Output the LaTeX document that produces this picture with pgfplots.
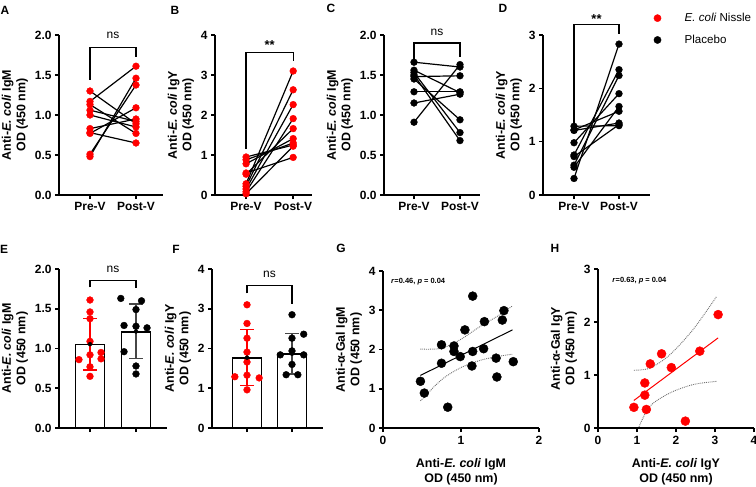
\documentclass[border=0pt]{standalone}
\usepackage{fontspec}
\setmainfont{Liberation Sans}
\usepackage{pgfplots}
\usepackage{pgfplotstable}
\pgfplotsset{compat=1.18}

\definecolor{ecn}{RGB}{255,0,0}
\definecolor{bandgray}{RGB}{110,110,110}
\definecolor{sdgray}{RGB}{70,70,70}

% paired data, pre-V / post-V
\pgfplotstableread{
pre post
1.30 0.89
1.17 1.61
1.13 0.77
1.06 0.92
1.00 0.85
0.83 0.95
0.78 0.65
0.77 1.09
0.51 1.375
0.48 1.46
}\dataA
\pgfplotstableread{
pre post
0.95 1.25
0.88 1.30
0.78 1.41
0.55 0.94
0.52 1.66
0.28 3.10
0.22 2.63
0.15 2.26
0.08 1.91
0.03 1.22
}\dataB
\pgfplotstableread{
pre post
1.66 1.60
1.56 1.28
1.53 0.78
1.50 0.68
1.45 0.94
1.29 1.29
1.48 1.49
1.15 1.26
0.91 1.63
}\dataC
\pgfplotstableread{
pre post
1.29 1.30
1.22 1.57
1.21 1.35
0.98 1.90
0.75 2.35
0.72 1.32
0.56 2.24
0.52 1.66
0.31 2.83
}\dataD
% post-V values, jittered
\pgfplotstableread{
x y
1.00 1.61
1.00 1.46
1.00 1.375
1.00 1.09
1.24 0.95
1.00 0.92
1.24 0.87
0.76 0.86
1.00 0.77
1.00 0.65
}\dotsEr
\pgfplotstableread{
x y
1.67 1.63
2.12 1.60
2.00 1.49
1.74 1.29
2.00 1.28
2.24 1.26
1.74 0.96
2.00 0.78
2.00 0.68
}\dotsEb
\pgfplotstableread{
x y
1.00 3.10
1.00 2.63
1.00 2.26
1.00 1.91
1.00 1.66
1.00 1.33
0.73 1.29
1.27 1.26
1.00 0.96
}\dotsFr
\pgfplotstableread{
x y
2.00 2.85
2.26 2.36
2.00 2.26
2.00 1.94
1.74 1.84
2.26 1.84
2.00 1.60
1.87 1.34
2.13 1.34
}\dotsFb
% correlations
\pgfplotstableread{
x y
0.48 1.19
0.53 0.89
0.83 0.53
0.75 2.12
0.75 1.65
0.91 2.09
0.91 1.95
0.99 1.82
1.05 2.50
1.15 3.36
1.15 1.95
1.14 1.58
1.29 2.02
1.30 2.71
1.45 1.78
1.46 1.30
1.53 2.75
1.55 2.99
1.67 1.69
}\dataG
\pgfplotstableread{
x y
0.92 0.39
1.20 0.85
1.20 0.62
1.24 0.35
1.34 1.21
1.63 1.40
1.88 1.14
2.24 0.13
2.61 1.45
3.08 2.14
}\dataH

\pgfplotsset{
  gp/.style={
    scale only axis, anchor=south west, clip=false,
    axis x line*=bottom, axis y line*=left,
    axis line style={line width=1.6bp},
    every tick/.style={line width=1.6bp, black},
    tick align=outside, major tick length=4bp,
    /pgf/number format/assume math mode=true,
    ticklabel style={font=\bfseries\fontsize{12}{12}\selectfont},
    label style={font=\bfseries\fontsize{12.5}{14.5}\selectfont, align=center},
  },
  prepost/.style={gp, xtick={1,2}, xticklabels={Pre-V,Post-V}},
  onedec/.style={yticklabel style={/pgf/number format/fixed,
      /pgf/number format/fixed zerofill, /pgf/number format/precision=1}},
  pair/.style={black, line width=1.2bp, quiver={u=1, v=\thisrow{post}-\thisrow{pre}}},
  dot/.style={only marks, mark=*, mark size=3.4bp, color=#1, mark options={fill=#1, draw=#1}},
  bigdot/.style={only marks, mark=*, mark size=4.5bp, color=#1, mark options={fill=#1, draw=#1}},
  bracket/.style={black, line width=1.2bp, mark=none},
  bar/.style={ybar, bar width=29bp, bar shift=0pt, fill=white, draw=black, line width=1.8bp},
  sd/.style={only marks, mark=none, error bars/.cd, y dir=both, y explicit,
    error bar style={line width=1.3bp, #1},
    error mark options={rotate=90, mark size=7bp, line width=1.3bp, #1}},
  cband/.style={densely dotted, bandgray, line width=0.9bp, smooth, mark=none},
  scat/.style={gp, xticklabel style={yshift=-1bp}, xlabel style={yshift=-7bp}},
}
\newcommand{\ns}{\fontsize{12}{12}\selectfont}
\newcommand{\stars}{\bfseries\fontsize{13}{13}\selectfont}
\newcommand{\panel}{\bfseries\fontsize{12}{12}\selectfont}

\begin{document}
\begin{tikzpicture}
\useasboundingbox (0,0) rectangle (756bp,-487bp);

% ---- A
\begin{axis}[prepost, onedec, at={(59bp,-195bp)}, width=104bp, height=160bp,
  xmin=0.326, xmax=2.587, ymin=0, ymax=2, ytick={0,0.5,...,2},
  ylabel={Anti-\textit{E. coli} IgM\\OD (450 nm)}]
\addplot[pair] table[x expr=1, y=pre] {\dataA};
\addplot[dot=ecn] table[x expr=1, y=pre] {\dataA};
\addplot[dot=ecn] table[x expr=2, y=post] {\dataA};
\addplot[bracket] coordinates {(1,1.44) (1,1.84) (2,1.84) (2,1.73)};
\node[anchor=base, font=\ns] at (axis cs:1.5,1.96) {ns};
\end{axis}

% ---- B
\begin{axis}[prepost, at={(215bp,-195bp)}, width=97bp, height=160bp,
  xmin=0.34, xmax=2.40, ymin=0, ymax=4, ytick={0,...,4},
  ylabel={Anti-\textit{E. coli} IgY\\OD (450 nm)}]
\addplot[pair] table[x expr=1, y=pre] {\dataB};
\addplot[dot=ecn] table[x expr=1, y=pre] {\dataB};
\addplot[dot=ecn] table[x expr=2, y=post] {\dataB};
\addplot[bracket] coordinates {(1,1.15) (1,3.57) (2,3.57) (2,3.34)};
\node[anchor=base, font=\stars] at (axis cs:1.5,3.63) {**};
\end{axis}

% ---- C
\begin{axis}[prepost, onedec, at={(384bp,-195bp)}, width=96bp, height=160bp,
  xmin=0.348, xmax=2.435, ymin=0, ymax=2, ytick={0,0.5,...,2},
  ylabel={Anti-\textit{E. coli} IgM\\OD (450 nm)}]
\addplot[pair] table[x expr=1, y=pre] {\dataC};
\addplot[dot=black] table[x expr=1, y=pre] {\dataC};
\addplot[dot=black] table[x expr=2, y=post] {\dataC};
\addplot[bracket] coordinates {(1,1.70) (1,1.90) (2,1.90) (2,1.73)};
\node[anchor=base, font=\ns] at (axis cs:1.5,1.99) {ns};
\end{axis}

% ---- D
\begin{axis}[prepost, at={(543bp,-195bp)}, width=107bp, height=160bp,
  xmin=0.311, xmax=2.689, ymin=0, ymax=3, ytick={0,...,3},
  ylabel={Anti-\textit{E. coli} IgY\\OD (450 nm)}]
\addplot[pair] table[x expr=1, y=pre] {\dataD};
\addplot[dot=black] table[x expr=1, y=pre] {\dataD};
\addplot[dot=black] table[x expr=2, y=post] {\dataD};
\addplot[bracket] coordinates {(1,1.34) (1,3.19) (2,3.19) (2,3.02)};
\node[anchor=base, font=\stars] at (axis cs:1.5,3.22) {**};
\end{axis}

% ---- legend
\begin{axis}[at={(543bp,-195bp)}, anchor=south west, scale only axis,
  width=107bp, height=160bp, hide axis, xmin=0, xmax=1, ymin=0, ymax=1,
  legend style={draw=none, fill=none, inner sep=0pt,
    at={(axis description cs:1.029,1.15)}, anchor=north west,
    font=\fontsize{11.6}{14}\selectfont, row sep=8bp},
  legend cell align=left,
  legend image code/.code={\path (-4bp,0) (25bp,0); \draw[#1] plot coordinates {(0bp,0bp)};}]
\addlegendimage{dot=ecn, mark size=3.6bp}
\addlegendentry{\textit{E. coli} Nissle}
\addlegendimage{dot=black, mark size=3.6bp}
\addlegendentry{Placebo}
\end{axis}

% ---- E
\begin{axis}[gp, onedec, at={(59bp,-428bp)}, width=108bp, height=159bp,
  xmin=0.326, xmax=2.674, ymin=0, ymax=2, ytick={0,0.5,...,2},
  xtick={1,2}, xticklabels={,},
  ylabel={Anti-\textit{E. coli} IgM\\OD (450 nm)}]
\addplot[bar] coordinates {(1,1.05) (2,1.21)};
\addplot[dot=ecn] table {\dotsEr};
\addplot[dot=black] table {\dotsEb};
\addplot[sd=ecn] coordinates {(1,1.055) +- (0,0.325)};
\addplot[sd=sdgray] coordinates {(2,1.215) +- (0,0.345)};
\addplot[bracket] coordinates {(1,1.77) (1,1.86) (2,1.86) (2,1.76)};
\node[anchor=base, font=\ns] at (axis cs:1.5,1.95) {ns};
\end{axis}

% ---- F
\begin{axis}[gp, at={(212bp,-428bp)}, width=111bp, height=159bp,
  xmin=0.222, xmax=2.689, ymin=0, ymax=4, ytick={0,...,4},
  xtick={1,2}, xticklabels={,},
  ylabel={Anti-\textit{E. coli} IgY\\OD (450 nm)}]
\addplot[bar] coordinates {(1,1.77) (2,1.87)};
\addplot[dot=ecn] table {\dotsFr};
\addplot[dot=black] table {\dotsFb};
\addplot[sd=ecn] coordinates {(1,1.77) +- (0,0.70)};
\addplot[sd=sdgray] coordinates {(2,1.87) +- (0,0.51)};
\addplot[bracket] coordinates {(1,3.39) (1,3.58) (2,3.58) (2,3.11)};
\node[anchor=base, font=\ns] at (axis cs:1.5,3.79) {ns};
\end{axis}

% ---- G
\begin{axis}[scat, at={(383bp,-428bp)}, width=156bp, height=157bp,
  xmin=0, xmax=2, ymin=0, ymax=4, xtick={0,1,2}, ytick={0,...,4},
  xlabel={Anti-\textit{E. coli} IgM\\OD (450 nm)},
  ylabel={Anti-α-Gal IgM\\OD (450 nm)}]
\addplot[cband] coordinates {(0.48,2.01) (0.75,2.03) (0.99,2.25) (1.24,2.58) (1.46,2.84) (1.66,3.11)};
\addplot[cband] coordinates {(0.48,0.69) (0.75,1.23) (0.99,1.53) (1.24,1.72) (1.46,1.82) (1.66,1.88)};
\addplot[black, line width=1bp, mark=none] coordinates {(0.48,1.34) (1.66,2.50)};
\addplot[bigdot=black] table {\dataG};
\node[anchor=base west, font=\bfseries\fontsize{7.5}{8}\selectfont] at (axis cs:0.06,3.69)
  {\textit{r}=0.46, \textit{p} = 0.04};
\end{axis}

% ---- H
\begin{axis}[scat, at={(598bp,-428bp)}, width=156bp, height=159bp,
  xmin=0, xmax=4, ymin=0, ymax=3, xtick={0,...,4}, ytick={0,...,3},
  xlabel={Anti-\textit{E. coli} IgY\\OD (450 nm)},
  ylabel={Anti-α-Gal IgY\\OD (450 nm)}]
\addplot[cband] coordinates {(0.92,1.09) (1.33,1.13) (1.84,1.38) (2.44,1.86) (3.04,2.48)};
\addplot[cband] coordinates {(1.05,0.02) (1.33,0.41) (1.84,0.66) (2.44,0.82) (3.04,0.88)};
\addplot[ecn, line width=1bp, mark=none] coordinates {(0.92,0.52) (3.08,1.70)};
\addplot[bigdot=ecn] table {\dataH};
\node[anchor=base west, font=\bfseries\fontsize{7.5}{8}\selectfont] at (axis cs:0.28,2.74)
  {\textit{r}=0.63, \textit{p} = 0.04};
\end{axis}

% ---- panel letters
\node[font=\panel] at (5bp,-10bp) {A};
\node[font=\panel] at (175bp,-10bp) {B};
\node[font=\panel] at (331bp,-8bp) {C};
\node[font=\panel] at (503bp,-8bp) {D};
\node[font=\panel] at (4bp,-249bp) {E};
\node[font=\panel] at (176bp,-249bp) {F};
\node[font=\panel] at (341bp,-248bp) {G};
\node[font=\panel] at (555bp,-248bp) {H};
\end{tikzpicture}
\end{document}
